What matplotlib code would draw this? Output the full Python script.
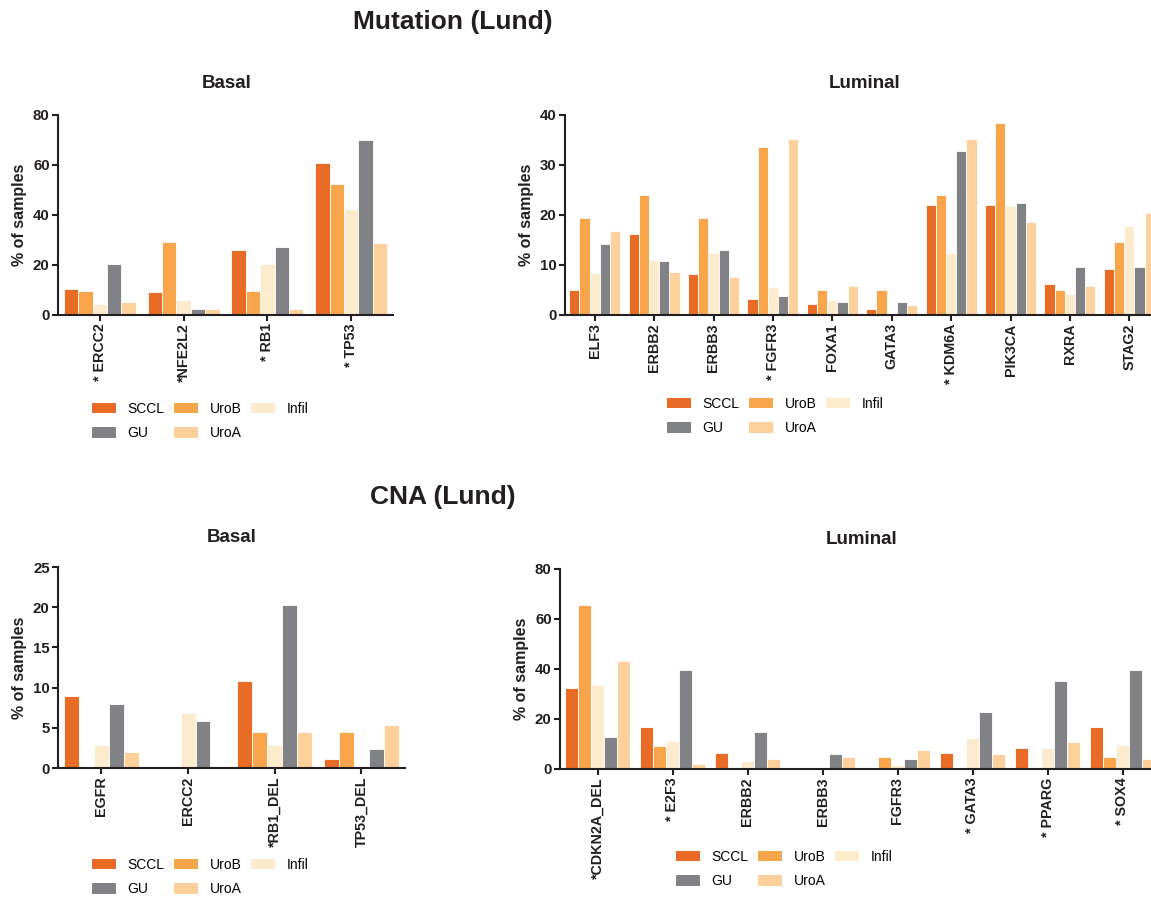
import matplotlib
matplotlib.use('Agg')
import matplotlib.pyplot as plt
from matplotlib.patches import Patch
import numpy as np

plt.rcParams['font.family'] = ['Liberation Sans', 'DejaVu Sans']

# ── Data ────────────────────────────────────────────────────────────────────
groups = ["SCCL", "UroB", "Infil", "GU", "UroA"]
colors = ["#E86C25", "#F8A54B", "#FDEBCD", "#808285", "#FDD09C"]

mut_basal_genes = ["* ERCC2", "*NFE2L2", "* RB1", "* TP53"]
mut_basal_sccl = [10.2, 9.0, 26.0, 60.7]
mut_basal_urob = [9.7, 29.0, 9.7, 52.5]
mut_basal_infil = [4.5, 5.8, 20.5, 42.2]
mut_basal_gu = [20.2, 2.5, 27.0, 70.0]
mut_basal_uroa = [5.0, 2.2, 2.2, 28.8]

mut_lum_genes = ["ELF3", "ERBB2", "ERBB3", "* FGFR3", "FOXA1", "GATA3",
                 "* KDM6A", "PIK3CA", "RXRA", "STAG2"]
mut_lum_sccl = [5.0, 16.1, 8.1, 3.2, 2.2, 1.2, 22.0, 22.0, 6.2, 9.1]
mut_lum_urob = [19.3, 24.0, 19.3, 33.5, 4.9, 4.9, 24.0, 38.3, 4.9, 14.5]
mut_lum_infil = [8.3, 11.0, 12.3, 5.5, 2.9, 0.0, 12.3, 21.8, 4.2, 17.8]
mut_lum_gu = [14.2, 10.7, 13.0, 3.7, 2.5, 2.5, 32.8, 22.3, 9.5, 9.5]
mut_lum_uroa = [16.7, 8.5, 7.5, 35.1, 5.7, 2.0, 35.1, 18.5, 5.7, 20.3]

cna_basal_genes = ["EGFR", "ERCC2", "*RB1_DEL", "TP53_DEL"]
cna_basal_sccl = [8.9, 0.0, 10.8, 1.1]
cna_basal_urob = [0.0, 0.0, 4.5, 4.5]
cna_basal_infil = [2.8, 6.8, 2.8, 0.0]
cna_basal_gu = [8.0, 5.8, 20.3, 2.4]
cna_basal_uroa = [1.95, 0.0, 4.5, 5.4]

cna_lum_genes = ["*CDKN2A_DEL", "* E2F3", "ERBB2", "ERBB3", "FGFR3",
                 "* GATA3", "* PPARG", "* SOX4"]
cna_lum_sccl = [32.5, 16.9, 6.3, 0.0, 0.0, 6.3, 8.3, 16.9]
cna_lum_urob = [65.6, 9.1, 0.0, 0.0, 4.8, 0.0, 0.0, 4.8]
cna_lum_infil = [33.7, 11.1, 3.1, 0.0, 1.7, 12.5, 8.5, 9.7]
cna_lum_gu = [12.8, 39.7, 15.0, 6.1, 3.9, 22.9, 35.3, 39.7]
cna_lum_uroa = [43.3, 2.1, 4.0, 4.9, 7.5, 5.9, 10.9, 3.9]

# ── Figure layout (pixels) ───────────────────────────────────────────────────
W, H = 1151, 897
fig = plt.figure(figsize=(W / 100, H / 100), dpi=100)
INK = "#231F20"
BW = 0.172


def px_axes(x0, x1, ytop, ybot):
    return fig.add_axes([x0 / W, 1 - ybot / H, (x1 - x0) / W, (ybot - ytop) / H])


def draw_panel(ax, genes, series, ymax, step):
    x = np.arange(len(genes))
    for k, (vals, c) in enumerate(zip(series, colors)):
        ax.bar(x + (k - 2) * BW, vals, width=BW, color=c,
               edgecolor="white", linewidth=0.6, zorder=2)
    ax.set_xlim(-0.5, len(genes) - 0.5)
    ax.set_ylim(0, ymax)
    ax.set_yticks(np.arange(0, ymax + 0.1, step))
    ax.set_xticks(x)
    ax.set_xticklabels(genes, rotation=90, fontsize=10.3, fontweight='bold', color=INK)
    for t in ax.get_yticklabels():
        t.set_fontweight('bold')
        t.set_fontsize(10.8)
        t.set_color(INK)
    for s in ["top", "right"]:
        ax.spines[s].set_visible(False)
    for s in ["left", "bottom"]:
        ax.spines[s].set_linewidth(1.5)
        ax.spines[s].set_color(INK)
    ax.tick_params(axis='both', direction='out', length=4, width=1.5,
                   color=INK, pad=2)
    ax.set_ylabel("% of samples", fontsize=11.5, fontweight='bold', color=INK,
                  labelpad=4)
    ax.patch.set_alpha(0)


def draw_legend(xpx, ypx):
    handles = [Patch(facecolor=colors[0], label="SCCL"),
               Patch(facecolor=colors[3], label="GU"),
               Patch(facecolor=colors[1], label="UroB"),
               Patch(facecolor=colors[4], label="UroA"),
               Patch(facecolor=colors[2], label="Infil")]
    fig.legend(handles=handles, ncol=3, loc='upper left',
               bbox_to_anchor=(xpx / W, 1 - ypx / H), frameon=False,
               fontsize=10, handlelength=1.75, handleheight=0.75,
               handletextpad=0.8, columnspacing=0.7, labelspacing=0.75,
               borderpad=0, borderaxespad=0)


# Mutation – Basal
ax1 = px_axes(58, 393, 115, 315)
draw_panel(ax1, mut_basal_genes,
           [mut_basal_sccl, mut_basal_urob, mut_basal_infil, mut_basal_gu, mut_basal_uroa],
           80, 20)
# Mutation – Luminal
ax2 = px_axes(565, 565 + 10 * 59.4, 115, 315)
draw_panel(ax2, mut_lum_genes,
           [mut_lum_sccl, mut_lum_urob, mut_lum_infil, mut_lum_gu, mut_lum_uroa],
           40, 10)
# CNA – Basal
ax3 = px_axes(58, 58 + 4 * 86.7, 567, 768)
draw_panel(ax3, cna_basal_genes,
           [cna_basal_sccl, cna_basal_urob, cna_basal_infil, cna_basal_gu, cna_basal_uroa],
           25, 5)
# CNA – Luminal
ax4 = px_axes(560, 560 + 8 * 75, 569, 769)
draw_panel(ax4, cna_lum_genes,
           [cna_lum_sccl, cna_lum_urob, cna_lum_infil, cna_lum_gu, cna_lum_uroa],
           80, 20)

# ── Titles ───────────────────────────────────────────────────────────────────
fig.text(453 / W, 1 - 22 / H, "Mutation (Lund)", ha='center', va='center',
         fontsize=19, fontweight='bold', color=INK)
fig.text(443 / W, 1 - 497 / H, "CNA (Lund)", ha='center', va='center',
         fontsize=19, fontweight='bold', color=INK)
for xt, yt, s in [(227, 84, "Basal"), (865, 84, "Luminal"),
                  (232, 537, "Basal"), (862, 539, "Luminal")]:
    fig.text(xt / W, 1 - yt / H, s, ha='center', va='center',
             fontsize=13.5, fontweight='bold', color=INK)

# ── Legends ──────────────────────────────────────────────────────────────────
draw_legend(92, 402)
draw_legend(667, 397)
draw_legend(92, 858)
draw_legend(676, 850)

fig.savefig("out.png", dpi=100, facecolor='white')
